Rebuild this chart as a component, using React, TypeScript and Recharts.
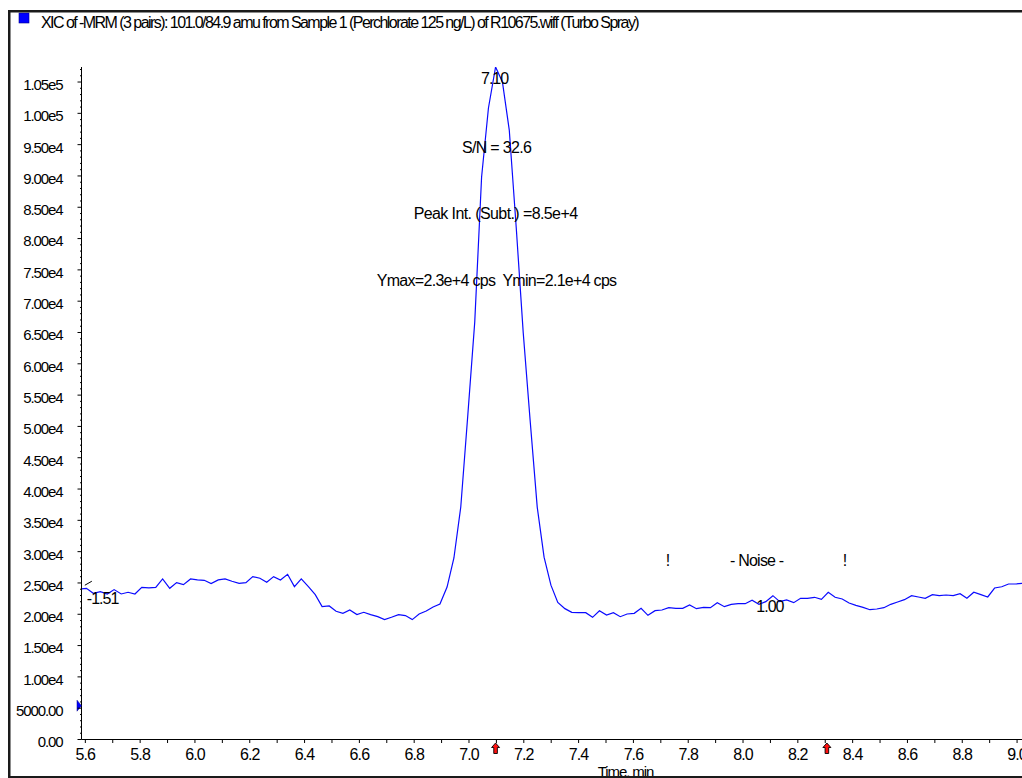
import React from 'react';
import { LineChart, Line, XAxis, YAxis, ReferenceDot } from 'recharts';

const FONT = '"Liberation Sans", Arial, Helvetica, sans-serif';

const TITLE = 'XIC of -MRM (3 pairs): 101.0/84.9 amu from Sample 1 (Perchlorate 125 ng/L) of R10675.wiff (Turbo Spray)';
const X_AXIS_TITLE = 'Time, min';

// retention time (min) of each scan
const TIMES = [
  5.586, 5.604, 5.629, 5.655, 5.680, 5.705, 5.731, 5.756, 5.781, 5.806, 5.832,
  5.857, 5.882, 5.908, 5.933, 5.958, 5.984, 6.009, 6.034, 6.059, 6.085,
  6.110, 6.135, 6.161, 6.186, 6.211, 6.237, 6.262, 6.287, 6.312, 6.338,
  6.363, 6.388, 6.414, 6.439, 6.464, 6.490, 6.515, 6.540, 6.565, 6.591,
  6.616, 6.641, 6.667, 6.692, 6.717, 6.743, 6.768, 6.793, 6.818, 6.844,
  6.869, 6.894, 6.920, 6.945, 6.970, 6.996, 7.021, 7.046, 7.071, 7.097,
  7.122, 7.147, 7.173, 7.198, 7.223, 7.249, 7.274, 7.299, 7.324, 7.350,
  7.375, 7.400, 7.426, 7.451, 7.476, 7.502, 7.527, 7.552, 7.577, 7.603,
  7.628, 7.653, 7.679, 7.704, 7.729, 7.755, 7.780, 7.805, 7.830, 7.856,
  7.881, 7.906, 7.932, 7.957, 7.982, 8.008, 8.033, 8.058, 8.083, 8.109,
  8.134, 8.159, 8.185, 8.210, 8.235, 8.261, 8.286, 8.311, 8.336, 8.362,
  8.387, 8.412, 8.438, 8.463, 8.488, 8.514, 8.539, 8.564, 8.589, 8.615,
  8.640, 8.665, 8.691, 8.716, 8.741, 8.767, 8.792, 8.817, 8.842, 8.868,
  8.893, 8.918, 8.944, 8.969, 8.994, 9.020,
];

// intensity (cps) of each scan
const INTENSITY = [
  24050, 24150, 23350, 23620, 23240, 23940, 23240, 23510, 23240, 24300, 24200,
  24300, 25640, 24150, 25050, 24730, 25640, 25480, 25420, 24890, 25480,
  25640, 25270, 24950, 25050, 26010, 25750, 25110, 26010, 25480, 26380,
  24410, 25640, 24410, 23140, 21220, 21330, 20480, 20160, 20690, 19950,
  20320, 19950, 19630, 19150, 19520, 19950, 19790, 19150, 20050, 20520,
  21160, 21640, 24350, 28990, 37130, 51980, 66670, 89830, 100850, 107400,
  105000, 97330, 81360, 64910, 51020, 37110, 29120, 24650, 21900, 20900,
  20310, 20250, 20250, 19510, 20570, 19880, 20250, 19610, 20040, 20150,
  20950, 19830, 20570, 20680, 21050, 20950, 20950, 21480, 20890, 21110,
  21050, 21850, 21210, 21590, 21690, 21690, 22230, 21590, 22010, 22970,
  22010, 22280, 21850, 22550, 22550, 22710, 22390, 23510, 22710, 22440,
  21800, 21430, 21110, 20730, 20840, 21050, 21590, 21960, 22330, 22970,
  22760, 22550, 23130, 22970, 23080, 22970, 23290, 22550, 23510, 23130,
  22760, 24190, 24400, 24830, 24830, 24940,
];

const X_MIN = 5.586;
const X_MAX = 9.018;
const Y_MAX = 107400;

const X_TICKS = [
  5.6, 5.7, 5.8, 5.9, 6.0, 6.1, 6.2, 6.3, 6.4, 6.5, 6.6, 6.7, 6.8, 6.9,
  7.0, 7.1, 7.2, 7.3, 7.4, 7.5, 7.6, 7.7, 7.8, 7.9, 8.0, 8.1, 8.2, 8.3,
  8.4, 8.5, 8.6, 8.7, 8.8, 8.9, 9.0,
];

const Y_MAJOR = [
  0, 5000, 10000, 15000, 20000, 25000, 30000, 35000, 40000, 45000, 50000,
  55000, 60000, 65000, 70000, 75000, 80000, 85000, 90000, 95000, 100000, 105000,
];
const Y_LABELS = [
  '0.00', '5000.00', '1.00e4', '1.50e4', '2.00e4', '2.50e4', '3.00e4', '3.50e4',
  '4.00e4', '4.50e4', '5.00e4', '5.50e4', '6.00e4', '6.50e4', '7.00e4', '7.50e4',
  '8.00e4', '8.50e4', '9.00e4', '9.50e4', '1.00e5', '1.05e5',
];
const Y_MINOR_STEP = 1000;
const Y_TICKS: number[] = [];
for (let v = 0; v <= Y_MAX; v += Y_MINOR_STEP) Y_TICKS.push(v);

// annotations
const PEAK_RT = 7.097;
const PEAK_APEX = 107400;
const PEAK_LABEL = '7.10';
const PEAK_INFO = ['S/N = 32.6', 'Peak Int. (Subt.) =8.5e+4', 'Ymax=2.3e+4 cps  Ymin=2.1e+4 cps'];
const NOISE_START = 7.726;
const NOISE_END = 8.372;
const NOISE_MID = 8.05;
const NOISE_LEVEL = 27700;
const NOISE_TEXT = '- Noise -';
const START_MARK = { t: 5.6, v: 24000, label: '-1.51' };
const END_MARK = { t: 8.098, v: 21000, label: '1.00' };
const ARROWS = [7.097, 8.306];
const THRESHOLD = 5400;

const DATA = TIMES.map((t, i) => ({ t, v: INTENSITY[i] }));

const txt = (size: number, ls: number) => ({
  fontFamily: FONT,
  fontSize: size,
  letterSpacing: ls,
  fill: '#000',
  whiteSpace: 'pre' as const,
});

const renderYTick = (props: any) => {
  const { x, y, payload } = props;
  const v = payload.value;
  const idx = Y_MAJOR.indexOf(v);
  const major = idx >= 0;
  return (
    <g>
      <line x1={x - (major ? 4 : 1.5)} x2={x} y1={y} y2={y} stroke="#000" strokeWidth={1} />
      {major && (
        <text x={x - 19} y={y + 7.9} textAnchor="end" style={txt(15, -1.1)}>
          {Y_LABELS[idx]}
        </text>
      )}
    </g>
  );
};

const renderXTick = (props: any) => {
  const { x, y, payload } = props;
  const v = payload.value;
  const labeled = Math.round(v * 10) % 2 === 0;
  return (
    <g>
      <line x1={x} x2={x} y1={y} y2={y + 3.5} stroke="#000" strokeWidth={1} />
      {labeled && (
        <text x={x} y={y + 20.5} textAnchor="middle" style={txt(16, -0.9)}>
          {v.toFixed(1)}
        </text>
      )}
    </g>
  );
};

const arrowShape = (p: any) => {
  const { cx, cy } = p;
  const d = `M${cx},${cy + 3.5} L${cx + 4},${cy + 8} L${cx + 1.8},${cy + 8} L${cx + 1.8},${cy + 14} L${cx - 1.8},${cy + 14} L${cx - 1.8},${cy + 8} L${cx - 4},${cy + 8} Z`;
  return <path d={d} fill="#ff1010" stroke="#000" strokeWidth={0.9} />;
};

const thresholdShape = (p: any) => {
  const { cx, cy } = p;
  return <path d={`M${cx - 4.5},${cy - 5.5} L${cx},${cy} L${cx - 4.5},${cy + 5.5} Z`} fill="#0000ff" stroke="#000080" strokeWidth={0.5} />;
};

const peakShape = (p: any) => {
  const { cx, cy } = p;
  return (
    <g>
      <text x={cx - 1} y={cy + 16.5} textAnchor="middle" style={txt(16, -1)}>{PEAK_LABEL}</text>
      <text x={cx + 1} y={cy + 85.5} textAnchor="middle" style={txt(16, -0.7)}>{PEAK_INFO[0]}</text>
      <text x={cx} y={cy + 151.5} textAnchor="middle" style={txt(16, -0.6)}>{PEAK_INFO[1]}</text>
      <text x={cx + 1} y={cy + 218.5} textAnchor="middle" style={txt(16, -0.7)}>{PEAK_INFO[2]}</text>
    </g>
  );
};

const bangShape = (p: any) => (
  <text x={p.cx} y={p.cy} textAnchor="middle" style={txt(16, 0)}>!</text>
);

const noiseShape = (p: any) => (
  <text x={p.cx} y={p.cy} textAnchor="middle" style={txt(16, -0.8)}>{NOISE_TEXT}</text>
);

const startShape = (p: any) => {
  const { cx, cy } = p;
  return (
    <g>
      <line x1={cx - 0.5} y1={cy - 4} x2={cx + 6.5} y2={cy - 8} stroke="#000" strokeWidth={1} />
      <text x={cx + 1.5} y={cy + 14.3} style={txt(16, -1)}>{START_MARK.label}</text>
    </g>
  );
};

const endShape = (p: any) => (
  <text x={p.cx} y={p.cy + 3.5} textAnchor="middle" style={txt(16, -1)}>{END_MARK.label}</text>
);

const renderXTitle = (props: any) => {
  const vb = props.viewBox || { x: 81.5, y: 739.5 };
  return (
    <text x={vb.x + 544} y={vb.y + 37} textAnchor="middle" style={txt(15, -1.1)}>
      {X_AXIS_TITLE}
    </text>
  );
};

export default function App() {
  return (
    <div
      style={{
        position: 'fixed',
        left: 0,
        top: 0,
        width: 1022,
        height: 778,
        overflow: 'hidden',
        background: '#fff',
        fontFamily: FONT,
      }}
    >
      <LineChart width={1022} height={778} data={DATA} margin={{ top: 67, right: 0, bottom: 0, left: 0 }}>
        <XAxis
          dataKey="t"
          type="number"
          domain={[X_MIN, X_MAX]}
          ticks={X_TICKS}
          interval={0}
          tickSize={0}
          tickMargin={0}
          tickLine={false}
          axisLine={{ stroke: '#000', strokeWidth: 1 }}
          tick={renderXTick}
          height={38.5}
          allowDataOverflow
          label={renderXTitle}
        />
        <YAxis
          type="number"
          domain={[0, Y_MAX]}
          ticks={Y_TICKS}
          interval={0}
          tickSize={0}
          tickMargin={0}
          tickLine={false}
          axisLine={{ stroke: '#000', strokeWidth: 1 }}
          tick={renderYTick}
          width={81.5}
          allowDataOverflow
        />
        <Line
          dataKey="v"
          type="linear"
          stroke="#0a0aff"
          strokeWidth={1.2}
          dot={false}
          activeDot={false}
          isAnimationActive={false}
        />
        <ReferenceDot x={PEAK_RT} y={PEAK_APEX} shape={peakShape} />
        <ReferenceDot x={NOISE_START} y={NOISE_LEVEL} shape={bangShape} />
        <ReferenceDot x={NOISE_END} y={NOISE_LEVEL} shape={bangShape} />
        <ReferenceDot x={NOISE_MID} y={NOISE_LEVEL} shape={noiseShape} />
        <ReferenceDot x={START_MARK.t} y={START_MARK.v} shape={startShape} />
        <ReferenceDot x={END_MARK.t} y={END_MARK.v} shape={endShape} />
        <ReferenceDot x={X_MIN} y={THRESHOLD} shape={thresholdShape} />
        {ARROWS.map((a) => (
          <ReferenceDot key={a} x={a} y={0} shape={arrowShape} />
        ))}
      </LineChart>
      <svg width={1022} height={778} style={{ position: 'absolute', left: 0, top: 0, pointerEvents: 'none' }}>
        <rect x={19} y={13} width={10} height={10} fill="#0000ff" stroke="#00008b" strokeWidth={0.6} />
        <text x={41} y={28} style={txt(16, -1.55)}>{TITLE}</text>
        <line x1={8} y1={11.25} x2={1022} y2={11.25} stroke="#1a1a1a" strokeWidth={2.5} />
        <line x1={9.25} y1={10} x2={9.25} y2={778} stroke="#1a1a1a" strokeWidth={2.5} />
        <line x1={8} y1={777} x2={1022} y2={777} stroke="#1a1a1a" strokeWidth={2} />
      </svg>
    </div>
  );
}
